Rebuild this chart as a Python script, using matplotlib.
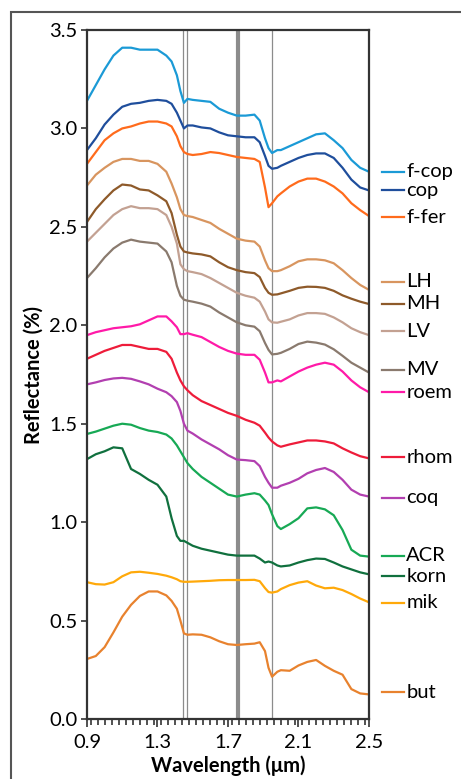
import numpy as np
import matplotlib.pyplot as plt
from matplotlib.ticker import MultipleLocator
from matplotlib.patches import Rectangle

plt.rcParams['font.family'] = ['Lato', 'DejaVu Sans']

# wavelength grid (um)
wl = [0.90, 0.95, 1.00, 1.05, 1.10, 1.15, 1.20, 1.25, 1.30, 1.35, 1.38, 1.41, 1.43,
      1.45, 1.47, 1.50, 1.55, 1.60, 1.65, 1.70, 1.75, 1.80, 1.85, 1.88, 1.91, 1.93,
      1.95, 1.98, 2.00, 2.05, 2.10, 2.15, 2.20, 2.25, 2.30, 2.35, 2.40, 2.45, 2.50]

f_cop = [3.14, 3.22, 3.30, 3.37, 3.41, 3.41, 3.40, 3.40, 3.40, 3.37, 3.34, 3.27, 3.19,
         3.13, 3.15, 3.145, 3.14, 3.135, 3.10, 3.08, 3.065, 3.065, 3.07, 3.04, 2.95, 2.90,
         2.875, 2.89, 2.89, 2.91, 2.93, 2.95, 2.97, 2.975, 2.94, 2.90, 2.84, 2.80, 2.78]
cop = [2.89, 2.95, 3.02, 3.07, 3.11, 3.125, 3.13, 3.14, 3.145, 3.14, 3.125, 3.08, 3.04,
       3.00, 3.015, 3.015, 3.005, 3.0, 2.98, 2.965, 2.96, 2.955, 2.955, 2.93, 2.86, 2.81,
       2.795, 2.80, 2.81, 2.83, 2.85, 2.865, 2.873, 2.873, 2.85, 2.80, 2.74, 2.70, 2.685]
f_fer = [2.82, 2.88, 2.94, 2.975, 3.00, 3.01, 3.025, 3.035, 3.035, 3.025, 3.01, 2.96, 2.91,
         2.88, 2.87, 2.865, 2.87, 2.88, 2.875, 2.865, 2.855, 2.85, 2.845, 2.83, 2.70, 2.60,
         2.62, 2.655, 2.67, 2.705, 2.73, 2.745, 2.745, 2.73, 2.705, 2.67, 2.62, 2.585, 2.555]
LH = [2.71, 2.765, 2.80, 2.83, 2.845, 2.845, 2.835, 2.835, 2.82, 2.78, 2.72, 2.65, 2.59,
      2.56, 2.555, 2.55, 2.535, 2.52, 2.49, 2.465, 2.44, 2.43, 2.425, 2.40, 2.33, 2.29,
      2.275, 2.275, 2.28, 2.30, 2.325, 2.335, 2.335, 2.33, 2.315, 2.28, 2.24, 2.205, 2.18]
MH = [2.525, 2.59, 2.64, 2.685, 2.715, 2.71, 2.69, 2.685, 2.66, 2.63, 2.57, 2.46, 2.40,
      2.375, 2.37, 2.365, 2.36, 2.35, 2.32, 2.295, 2.28, 2.27, 2.265, 2.245, 2.19, 2.165,
      2.155, 2.157, 2.162, 2.175, 2.19, 2.196, 2.195, 2.19, 2.175, 2.152, 2.135, 2.12, 2.108]
LV = [2.425, 2.47, 2.515, 2.56, 2.59, 2.605, 2.595, 2.595, 2.59, 2.56, 2.50, 2.415, 2.31,
      2.285, 2.275, 2.27, 2.26, 2.24, 2.215, 2.19, 2.165, 2.15, 2.14, 2.12, 2.07, 2.03,
      2.015, 2.013, 2.018, 2.03, 2.05, 2.062, 2.062, 2.058, 2.04, 2.015, 1.985, 1.965, 1.95]
MV = [2.24, 2.29, 2.345, 2.39, 2.42, 2.435, 2.425, 2.42, 2.415, 2.375, 2.32, 2.20, 2.15,
      2.13, 2.125, 2.12, 2.11, 2.095, 2.065, 2.04, 2.015, 2.00, 1.993, 1.97, 1.91, 1.875,
      1.852, 1.855, 1.86, 1.88, 1.905, 1.917, 1.912, 1.902, 1.878, 1.845, 1.81, 1.785, 1.76]
roem = [1.95, 1.965, 1.975, 1.985, 1.99, 1.995, 2.005, 2.025, 2.045, 2.045, 2.02, 1.99, 1.955,
        1.955, 1.96, 1.952, 1.94, 1.915, 1.89, 1.87, 1.856, 1.85, 1.85, 1.825, 1.76, 1.71,
        1.71, 1.72, 1.715, 1.74, 1.765, 1.785, 1.80, 1.81, 1.80, 1.765, 1.72, 1.685, 1.66]
rhom = [1.83, 1.85, 1.87, 1.885, 1.90, 1.90, 1.89, 1.88, 1.88, 1.865, 1.83, 1.76, 1.72,
        1.69, 1.67, 1.645, 1.615, 1.595, 1.575, 1.555, 1.54, 1.52, 1.505, 1.49, 1.455, 1.43,
        1.41, 1.39, 1.383, 1.395, 1.405, 1.415, 1.415, 1.41, 1.40, 1.375, 1.354, 1.335, 1.324]
coq = [1.70, 1.71, 1.722, 1.73, 1.733, 1.728, 1.715, 1.70, 1.678, 1.66, 1.64, 1.61, 1.565,
       1.50, 1.465, 1.45, 1.42, 1.395, 1.37, 1.34, 1.318, 1.315, 1.31, 1.285, 1.23, 1.20,
       1.175, 1.175, 1.185, 1.20, 1.22, 1.248, 1.265, 1.275, 1.255, 1.215, 1.165, 1.14, 1.13]
ACR = [1.448, 1.46, 1.475, 1.49, 1.50, 1.495, 1.478, 1.465, 1.458, 1.445, 1.425, 1.39, 1.36,
       1.33, 1.30, 1.27, 1.23, 1.20, 1.17, 1.14, 1.13, 1.14, 1.147, 1.14, 1.11, 1.087,
       1.04, 0.98, 0.965, 0.99, 1.02, 1.07, 1.075, 1.065, 1.035, 0.96, 0.86, 0.83, 0.825]
korn = [1.32, 1.345, 1.36, 1.38, 1.375, 1.27, 1.245, 1.215, 1.19, 1.13, 1.02, 0.93, 0.905,
        0.905, 0.895, 0.88, 0.865, 0.855, 0.845, 0.835, 0.83, 0.83, 0.83, 0.815, 0.795, 0.80,
        0.795, 0.78, 0.775, 0.78, 0.795, 0.807, 0.815, 0.813, 0.795, 0.775, 0.76, 0.745, 0.735]
mik = [0.695, 0.685, 0.683, 0.695, 0.725, 0.745, 0.748, 0.743, 0.737, 0.728, 0.72, 0.71, 0.70,
       0.697, 0.697, 0.698, 0.70, 0.702, 0.705, 0.706, 0.706, 0.706, 0.707, 0.70, 0.665, 0.645,
       0.642, 0.648, 0.66, 0.68, 0.693, 0.70, 0.678, 0.664, 0.667, 0.655, 0.635, 0.612, 0.593]
but = [0.305, 0.32, 0.365, 0.44, 0.52, 0.58, 0.625, 0.648, 0.648, 0.628, 0.60, 0.56, 0.50,
       0.435, 0.428, 0.43, 0.428, 0.415, 0.395, 0.38, 0.376, 0.38, 0.383, 0.39, 0.345, 0.26,
       0.215, 0.24, 0.248, 0.245, 0.272, 0.29, 0.30, 0.27, 0.245, 0.225, 0.152, 0.13, 0.125]

names = ["f-cop", "cop", "f-fer", "LH", "MH", "LV", "MV", "roem", "rhom", "coq",
         "ACR", "korn", "mik", "but"]
series = [f_cop, cop, f_fer, LH, MH, LV, MV, roem, rhom, coq, ACR, korn, mik, but]
colors = ["#1B9AD6", "#1F4E9C", "#FF6B1C", "#D8955F", "#8E5A2A", "#C3A192", "#8A7A6E",
          "#FF1AA8", "#EE1C3A", "#B23FB0", "#17A955", "#10703E", "#FFA90A", "#E8822E"]
# y position of the labels on the right
label_y = [2.78, 2.685, 2.55, 2.22, 2.11, 1.97, 1.775, 1.66, 1.33, 1.125,
           0.83, 0.725, 0.59, 0.135]

# absorption band markers
thin_lines = [1.446, 1.466, 1.95]
band = 1.754

fig = plt.figure(figsize=(4.61, 7.79), dpi=100)
ax = fig.add_axes([0.1887, 0.0770, 0.6117, 0.8845])

for x in thin_lines:
    ax.axvline(x, color="#8c8c8c", lw=0.9, zorder=1)
ax.axvline(band, color="#8c8c8c", lw=3, zorder=1)

for name, ys, c, ly in zip(names, series, colors, label_y):
    ax.plot(wl, ys, color=c, lw=1.6, zorder=2, solid_joinstyle="round")
    ax.plot([1.046, 1.124], [ly, ly], color=c, lw=1.6,
            transform=ax.get_yaxis_transform(), clip_on=False)
    ax.text(1.132, ly, name, transform=ax.get_yaxis_transform(),
            va="center", ha="left", fontsize=14.5)

ax.set_xlim(0.9, 2.5)
ax.set_ylim(0, 3.5)
ax.set_xticks([0.9, 1.3, 1.7, 2.1, 2.5])
ax.xaxis.set_minor_locator(MultipleLocator(0.04))
ax.set_yticks(np.arange(0, 3.51, 0.5))
ax.set_yticklabels(["%.1f" % v for v in np.arange(0, 3.51, 0.5)])
ax.tick_params(axis="both", labelsize=14.5, direction="out", color="#333333", width=1.2)
ax.tick_params(axis="x", which="major", length=6, pad=5)
ax.tick_params(axis="x", which="minor", length=4, width=1.2, color="#333333")
ax.tick_params(axis="y", length=4, pad=3)
for s in ax.spines.values():
    s.set_color("#333333")
    s.set_linewidth(1.6)

ax.set_xlabel("Wavelength (\u03bcm)", fontsize=14.5, fontweight="bold", labelpad=3)
ax.set_ylabel("Reflectance (%)", fontsize=14.5, fontweight="bold", labelpad=4)

# outer frame
fig.patches.append(Rectangle((0.024, -0.05), 1.1, 1.0346, transform=fig.transFigure,
                             fill=False, edgecolor="#555555", lw=1.5))

plt.savefig("out.png", dpi=100)
